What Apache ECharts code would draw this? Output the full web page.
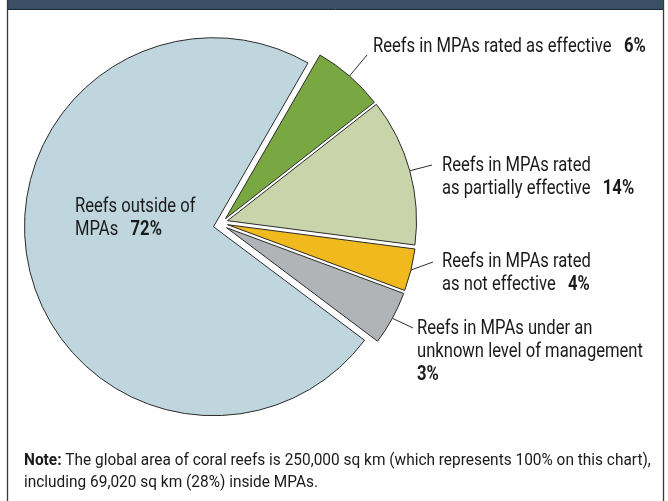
<!DOCTYPE html>
<html><head><meta charset="utf-8">
<script src="https://cdn.jsdelivr.net/npm/echarts@6/dist/echarts.min.js"></script>
<style>html,body{margin:0;padding:0;background:#fff}#c{width:668px;height:501px}</style>
</head><body><div id="c"></div>
<script>
// ---- data ----
const categories = [
  'Reefs in MPAs rated as effective',
  'Reefs in MPAs rated\nas partially effective',
  'Reefs in MPAs rated\nas not effective',
  'Reefs in MPAs under an\nunknown level of management',
  'Reefs outside of\nMPAs'
];
const values = [6.1, 12.6, 3.6, 4.6, 73.0];
const pctLabels = ['6%', '14%', '4%', '3%', '72%'];
const pctOnNewLine = [false, false, false, true, false];
const noteBold = 'Note:';
const noteText = ' The global area of coral reefs is 250,000 sq km (which represents 100% on this chart),\nincluding 69,020 sq km (28%) inside MPAs.';

// ---- styling / layout ----
const colors = ['#79a843', '#c9d4aa', '#f0b91d', '#b0b4b7', '#bfd6de'];
const FONT = 'Roboto, "Liberation Sans", sans-serif';
const FS = 20, LH = 23, SX = 0.83;
const C = [213.5, 226.7], R = 189;
const offsets = [[12, -8], [14, -6], [14, -2], [13, 1], [0, 0]];
const labelBox = [[373, 35], [442, 154], [442, 250], [417, 317], [75, 195]];
const lineEnd = [[367, 55], [432, 165], [433, 262], [413, 328]];

const chart = echarts.init(document.getElementById('c'), null, {renderer: 'canvas'});

const series = categories.map((_, k) => ({
  type: 'pie',
  center: [C[0] + offsets[k][0], C[1] + offsets[k][1]],
  radius: R,
  startAngle: 60,
  clockwise: true,
  animation: false,
  silent: true,
  avoidLabelOverlap: false,
  emphasis: {disabled: true},
  z: k === 4 ? 1 : 2,
  label: {
    position: k === 4 ? 'inside' : 'outside',
    fontFamily: FONT, fontSize: FS, lineHeight: LH, color: '#1a1a1a',
    align: 'left',
    formatter: p => p.name + (pctOnNewLine[p.dataIndex] ? '\n' : '   ') + '{b|' + pctLabels[p.dataIndex] + '}',
    rich: {b: {fontFamily: FONT, fontSize: FS, lineHeight: LH, fontWeight: 'bold', color: '#1a1a1a'}}
  },
  labelLine: {lineStyle: {color: '#2b2b2b', width: 1}},
  labelLayout: params => {
    if (params.dataIndex !== k) return {};
    const out = {x: labelBox[k][0], y: labelBox[k][1], align: 'left', verticalAlign: 'top'};
    if (k < 4 && params.labelLinePoints) {
      out.labelLinePoints = [params.labelLinePoints[0], lineEnd[k]];
    }
    return out;
  },
  data: values.map((v, i) => ({
    value: v,
    name: categories[i],
    itemStyle: i === k
      ? {color: colors[i], borderColor: '#2b2b2b', borderWidth: 1}
      : {color: 'rgba(0,0,0,0)', borderWidth: 0},
    label: {show: i === k},
    labelLine: {show: i === k && k < 4, length: 10, length2: 10}
  }))
}));

chart.setOption({
  animation: false,
  graphic: [
    {type: 'rect', shape: {x: 7, y: 0, width: 657, height: 9}, style: {fill: '#3a4e64'}, z: 10},
    {type: 'line', shape: {x1: 7, y1: 9.5, x2: 664, y2: 9.5}, style: {stroke: '#1f2a36', lineWidth: 1}, z: 10},
    {type: 'rect', shape: {x: 7.5, y: -2, width: 656, height: 505}, style: {fill: 'none', stroke: '#3a3a3a', lineWidth: 1.3}, z: 10},
    {type: 'text', x: 24, y: 450, scaleX: 0.935, z: 10, style: {
      text: '{b|' + noteBold + '}' + noteText,
      fontFamily: FONT, fontSize: 16.5, lineHeight: 22, fill: '#1a1a1a',
      rich: {b: {fontFamily: FONT, fontSize: 16.5, lineHeight: 22, fontWeight: 'bold', fill: '#1a1a1a'}}
    }}
  ],
  series: series
});

// condense label glyphs horizontally to mimic the narrow typeface of the original
try {
  const model = chart.getModel();
  series.forEach((s, k) => {
    const el = model.getSeriesByIndex(k).getData().getItemGraphicEl(k);
    const t = el && el.getTextContent && el.getTextContent();
    if (t) { t.scaleX = SX; t.markRedraw(); }
  });
  chart.getZr().refresh();
} catch (e) {}
</script></body></html>
